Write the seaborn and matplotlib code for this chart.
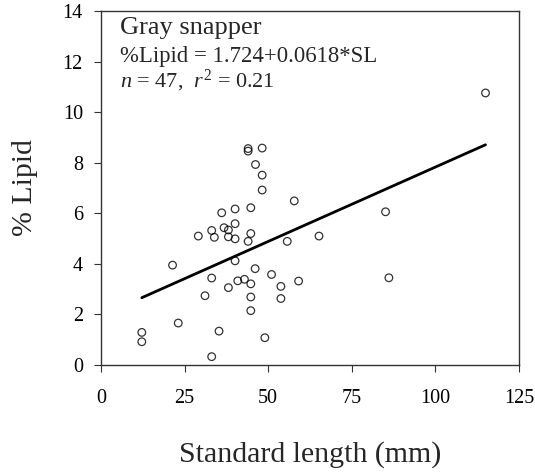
import matplotlib
matplotlib.use("Agg")
import matplotlib.pyplot as plt
import seaborn as sns
import numpy as np

# standard length (mm) and % lipid
standard_length = [44.0, 44.0, 48.2, 46.2, 48.2, 48.2, 57.8, 36.1, 40.1, 44.8,
                   40.1, 33.1, 36.8, 38.1, 29.1, 33.9, 38.1, 40.1, 44.8, 44.0,
                   55.7, 40.1, 21.4, 46.1, 51.0, 33.1, 40.9, 42.9, 44.8, 59.1,
                   38.1, 53.8, 31.1, 44.8, 53.8, 44.8, 23.1, 12.2, 12.2, 35.3,
                   49.0, 33.1, 115.0, 85.1, 65.2, 86.1]
pct_lipid = [8.56, 8.46, 8.58, 7.93, 7.51, 6.92, 6.49, 6.02, 6.17, 6.22,
             5.59, 5.32, 5.43, 5.34, 5.10, 5.05, 5.07, 4.99, 5.20, 4.89,
             4.89, 4.12, 3.95, 3.81, 3.58, 3.44, 3.33, 3.39, 3.21, 3.32,
             3.06, 3.11, 2.74, 2.69, 2.63, 2.15, 1.66, 1.29, 0.92, 1.34,
             1.08, 0.33, 10.76, 6.06, 5.10, 3.45]

x_ticks = [0, 25, 50, 75, 100, 125]
y_ticks = [0, 2, 4, 6, 8, 10, 12, 14]

sns.set_style("ticks")
plt.rcParams['font.family'] = ['Liberation Serif', 'DejaVu Serif']
plt.rcParams['mathtext.fontset'] = 'custom'
plt.rcParams['mathtext.rm'] = 'Liberation Serif'
plt.rcParams['mathtext.it'] = 'Liberation Serif:italic'

fig = plt.figure(figsize=(5.35, 4.73), dpi=100)
ax = fig.add_axes([0.1888, 0.2283, 0.7812, 0.7484])

sns.regplot(x=standard_length, y=pct_lipid, ax=ax, ci=None, truncate=True,
            scatter_kws=dict(s=30, facecolors='none', edgecolors='black', linewidths=0.9),
            line_kws=dict(color='black', linewidth=2.0))

ax.set_xlim(0, 125)
ax.set_ylim(0, 14)
ax.set_xticks(x_ticks)
ax.set_yticks(y_ticks)
ax.tick_params(direction='out', length=5, width=0.8, colors='#333333',
               labelcolor='black', labelsize=14.5)
ax.tick_params(axis='y', pad=8)
ax.tick_params(axis='x', pad=12)
for sp in ax.spines.values():
    sp.set_visible(True)
    sp.set_color('#333333')
    sp.set_linewidth(1.0)

ax.set_xlabel('Standard length (mm)', fontsize=21.5, labelpad=24)
ax.set_ylabel('% Lipid', fontsize=21.5, labelpad=18)

ax.text(0.045, 0.935, 'Gray snapper', transform=ax.transAxes, fontsize=19, va='baseline')
ax.text(0.045, 0.857, '%Lipid = 1.724+0.0618*SL', transform=ax.transAxes, fontsize=16.4, va='baseline')
ax.text(0.045, 0.785, r'$n$ = 47,  $r^2$ = 0.21', transform=ax.transAxes, fontsize=16, va='baseline')

fig.savefig("out.png", dpi=100)
plt.close(fig)
